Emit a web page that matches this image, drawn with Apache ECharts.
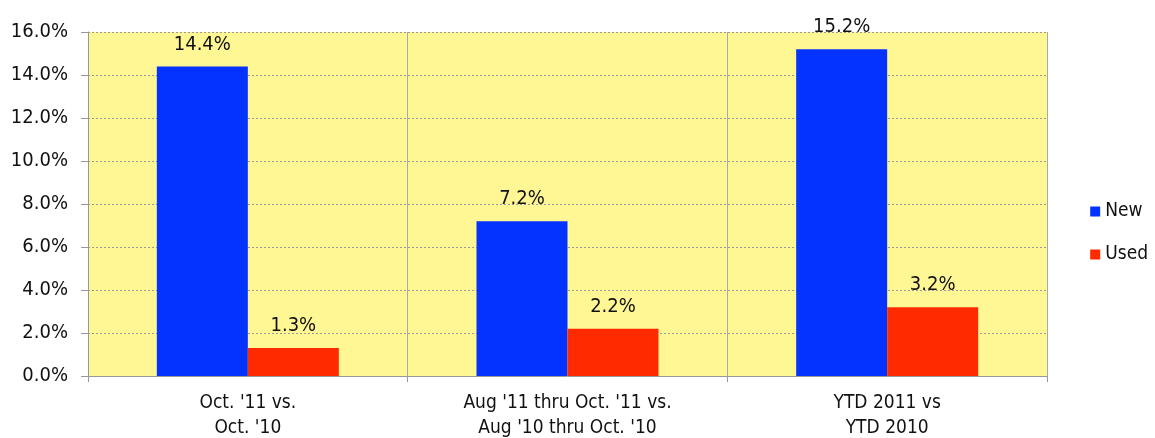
<!DOCTYPE html>
<html>
<head>
<meta charset="utf-8">
<script src="https://cdn.jsdelivr.net/npm/echarts@6/dist/echarts.min.js"></script>
<style>
  html, body { margin: 0; padding: 0; background: #fff; }
  #main { width: 1155px; height: 438px; }
</style>
</head>
<body>
<div id="main"></div>
<script>
const categories = ['Oct. \'11 vs.\nOct. \'10', 'Aug \'11 thru Oct. \'11 vs.\nAug \'10 thru Oct. \'10', 'YTD 2011 vs\nYTD 2010'];
const newValues = [14.4, 7.2, 15.2];
const usedValues = [1.3, 2.2, 3.2];

const font = '"DejaVu Sans Condensed", "Liberation Sans Narrow", sans-serif';

const myChart = echarts.init(document.getElementById('main'));

const pctLabel = {
  show: true,
  position: 'top',
  distance: 12,
  color: '#111',
  fontSize: 20,
  fontFamily: font,
  formatter: (p) => p.value.toFixed(1) + '%',
};

const option = {
  animation: false,
  textStyle: { fontFamily: font },
  grid: {
    left: 88,
    right: 108,
    top: 32,
    bottom: 62,
    outerBoundsMode: 'none',
    show: true,
    backgroundColor: '#FFF694',
    borderWidth: 0,
  },
  legend: {
    orient: 'vertical',
    right: 2,
    top: 197,
    itemWidth: 10,
    itemHeight: 10,
    itemGap: 24,
    icon: 'rect',
    textStyle: { fontSize: 19, color: '#111', fontFamily: font },
    data: ['New', 'Used'],
  },
  xAxis: {
    type: 'category',
    data: categories,
    axisLine: { show: true, lineStyle: { color: '#999' } },
    axisTick: { show: true, length: 6, lineStyle: { color: '#999' } },
    splitLine: { show: true, lineStyle: { color: '#aaa', width: 1 } },
    axisLabel: {
      color: '#111',
      fontSize: 19,
      lineHeight: 25,
      margin: 15,
      fontFamily: font,
    },
  },
  yAxis: {
    type: 'value',
    min: 0,
    max: 16,
    interval: 2,
    axisLine: { show: true, lineStyle: { color: '#999' } },
    axisTick: { show: true, length: 7, lineStyle: { color: '#999' } },
    splitLine: { show: true, lineStyle: { color: '#999', type: [2, 2], width: 1 } },
    axisLabel: {
      color: '#111',
      fontSize: 20,
      margin: 20,
      fontFamily: font,
      formatter: (v) => v.toFixed(1) + '%',
    },
  },
  series: [
    {
      name: 'New',
      type: 'bar',
      data: newValues,
      barWidth: 91,
      barGap: '0%',
      color: '#0433FF',
      label: pctLabel,
    },
    {
      name: 'Used',
      type: 'bar',
      data: usedValues,
      barWidth: 91,
      barGap: '0%',
      color: '#FF2A00',
      label: pctLabel,
    },
  ],
};

myChart.setOption(option);
</script>
</body>
</html>
